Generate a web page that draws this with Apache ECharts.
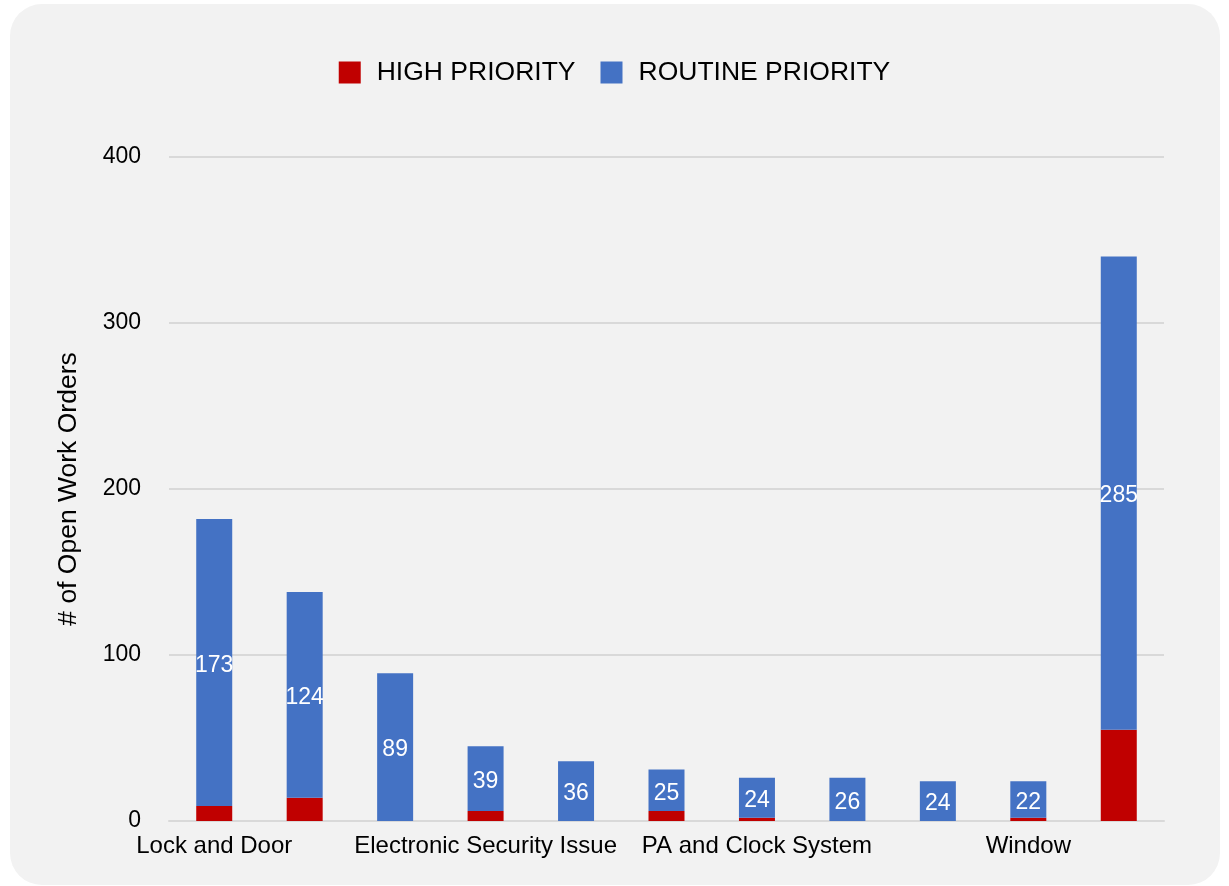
<!DOCTYPE html>
<html>
<head>
<meta charset="utf-8">
<script src="https://cdn.jsdelivr.net/npm/echarts@6/dist/echarts.min.js"></script>
<style>
  html, body { margin: 0; padding: 0; background: #ffffff; }
  #bg { position: absolute; left: 10px; top: 4px; width: 1210px; height: 881px; background: #f2f2f2; border-radius: 32px; }
  #chart { position: absolute; left: 0; top: 0; width: 1229px; height: 886px; }
</style>
</head>
<body>
<div id="bg"></div>
<div id="chart"></div>
<script>
const categories = ["Lock and Door", "Plumbing", "Electrical", "Electronic Security Issue", "HVAC", "Fire Alarm", "PA and Clock System", "Roofing", "Ceiling", "Window", "Other"];
const highPriority = [9, 14, 0, 6, 0, 6, 2, 0, 0, 2, 55];
const routinePriority = [173, 124, 89, 39, 36, 25, 24, 26, 24, 22, 285];
const yTicks = [0, 100, 200, 300, 400];

const FONT = '"Liberation Sans", Arial, Helvetica, sans-serif';
const chart = echarts.init(document.getElementById('chart'), null, { renderer: 'canvas' });
chart.setOption({
  backgroundColor: 'transparent',
  textStyle: { fontFamily: FONT },
  animation: false,
  legend: {
    top: 54,
    left: 'center',
    itemWidth: 22,
    itemHeight: 22,
    itemGap: 25,
    textStyle: { fontSize: 26.5, color: '#000', fontFamily: FONT, padding: [0, 0, 0, 11] },
    data: [
      { name: 'HIGH PRIORITY', icon: 'rect' },
      { name: 'ROUTINE PRIORITY', icon: 'rect' }
    ]
  },
  grid: { left: 169, right: 65, top: 157, bottom: 65, containLabel: false },
  xAxis: {
    type: 'category',
    data: categories,
    axisLine: { show: true, lineStyle: { color: '#d9d9d9', width: 2 } },
    axisTick: { show: false },
    axisLabel: { interval: 2, fontSize: 24, color: '#000', margin: 13, fontFamily: FONT }
  },
  yAxis: {
    type: 'value',
    min: yTicks[0],
    max: yTicks[yTicks.length - 1],
    interval: 100,
    name: '# of Open Work Orders',
    nameLocation: 'middle',
    nameGap: 87,
    nameTextStyle: { fontSize: 26.5, color: '#000', fontFamily: FONT },
    axisLine: { show: false },
    axisTick: { show: false },
    axisLabel: { fontSize: 23, color: '#000', margin: 28, fontFamily: FONT },
    splitLine: { lineStyle: { color: '#d9d9d9', width: 2 } }
  },
  series: [
    {
      name: 'HIGH PRIORITY',
      type: 'bar',
      stack: 'total',
      barWidth: 36,
      itemStyle: { color: '#c00000' },
      data: highPriority,
      label: { show: false }
    },
    {
      name: 'ROUTINE PRIORITY',
      type: 'bar',
      stack: 'total',
      barWidth: 36,
      itemStyle: { color: '#4472c4' },
      data: routinePriority,
      label: { show: true, position: 'inside', color: '#fff', fontSize: 23, fontFamily: FONT, offset: [0, 3] }
    }
  ]
});
</script>
</body>
</html>
